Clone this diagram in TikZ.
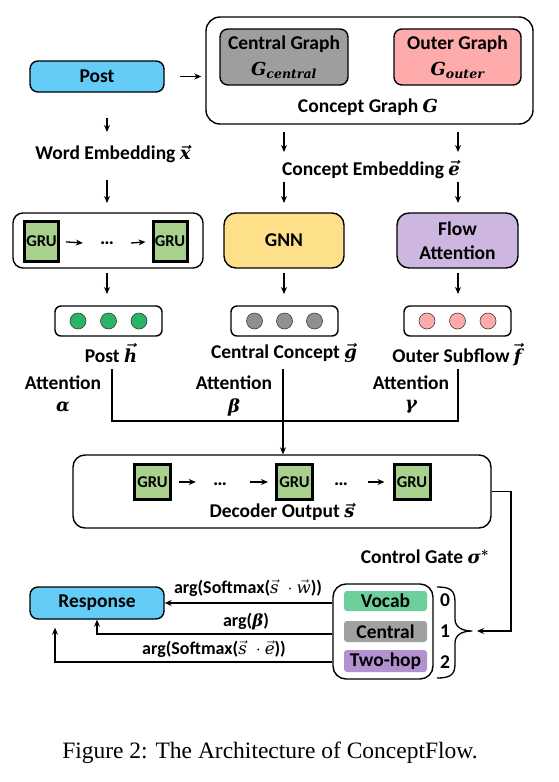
\RequirePackage{fix-cm}
\documentclass[tikz,border=0pt]{standalone}
\usepackage{amsmath}
\usepackage{fontspec}
\setmainfont{Carlito}
\newfontfamily\capfont{Liberation Serif}
\newfontfamily\mvf{DejaVu Serif}[Scale=0.92]
\newcommand\mvb[1]{\text{\mvf\bfseries\itshape #1}}
\newcommand\mvr[1]{\text{\mvf\mdseries\itshape #1}}
\usetikzlibrary{arrows.meta}
\definecolor{postblue}{HTML}{63CCF7}
\definecolor{cgray}{HTML}{9E9E9E}
\definecolor{opink}{HTML}{FFABAB}
\definecolor{grugreen}{HTML}{A9D18E}
\definecolor{gnnyellow}{HTML}{FFE08A}
\definecolor{flowlav}{HTML}{CDB6DF}
\definecolor{dotgreen}{HTML}{2AB566}
\definecolor{dotgray}{HTML}{909090}
\definecolor{dotpink}{HTML}{FFAAAA}
\definecolor{vocabgreen}{HTML}{6DCF9C}
\definecolor{selgray}{HTML}{A0A0A0}
\definecolor{twohop}{HTML}{B390D0}
\begin{document}
\begin{tikzpicture}[x=1pt,y=-1pt,
  every node/.style={font=\fontsize{19.5}{24}\selectfont\bfseries\boldmath, inner sep=0pt, text=black},
  rbox/.style={draw=black, line width=1.4pt, rounded corners=8pt},
  grub/.style={draw=black, line width=3pt, fill=grugreen, font=\fontsize{16.5}{19}\selectfont\bfseries},
  dotc/.style={circle, draw=black!75, line width=0.6pt, minimum size=16pt},
  selb/.style={rounded corners=3pt, minimum width=83pt},
  arr/.style={line width=1.3pt, -{Stealth[length=7pt,width=6pt]}},
  ln/.style={line width=1.3pt},
  dotsn/.style={minimum width=48pt},
  arglab/.style={font=\fontsize{18}{20}\selectfont\bfseries}
]
\fill[white] (0,0) rectangle (559,782);
\useasboundingbox (0,0) rectangle (559,782);

% ---------- top row ----------
\node[rbox, rounded corners=14pt, minimum width=327pt, minimum height=107pt] (cg) at (369.5,70.5) {};
\node[rbox, fill=cgray, minimum width=128pt, minimum height=56pt, align=center] (cgc) at (284,57) {Central Graph\\[2pt]$\mvb{G}_{\mvb{central}}$};
\node[rbox, fill=opink, minimum width=127pt, minimum height=56pt, align=center] (cgo) at (457.5,57) {Outer Graph\\[2pt]$\mvb{G}_{\mvb{outer}}$};
\node (cglab) at (368,107) {Concept Graph $\mvb{G}$};
\node[rbox, fill=postblue, minimum width=134pt, minimum height=31pt] (post) at (97,76.5) {Post};
\draw[arr] ([xshift=15pt]post.east) -- ([xshift=-4pt]post.east -| cg.west);

\node (wemb) at (113,154) {Word Embedding $\vec{\mvb{x}}$};
\node (cemb) at (371,170) {Concept Embedding $\vec{\mvb{e}}$};

\coordinate (a1s) at (107,118); \coordinate (a1e) at (107,132);
\coordinate (a2s) at (284,132); \coordinate (a2e) at (284,152);
\coordinate (a3s) at (458,132); \coordinate (a3e) at (458,152);
\coordinate (b1s) at (107,180); \coordinate (b1e) at (107,203);
\coordinate (b2s) at (284,182); \coordinate (b2e) at (284,203);
\coordinate (b3s) at (458,182); \coordinate (b3e) at (458,203);
\draw[arr] (a1s) -- (a1e);
\draw[arr] (a2s) -- (a2e);
\draw[arr] (a3s) -- (a3e);
\draw[arr] (b1s) -- (b1e);
\draw[arr] (b2s) -- (b2e);
\draw[arr] (b3s) -- (b3e);

% ---------- encoder / GNN / flow ----------
\node[rbox, rounded corners=10pt, minimum width=190pt, minimum height=55pt] (enc) at (108,240.5) {};
\node[grub, minimum width=34pt, minimum height=40pt] (e1) at (41.5,241.5) {GRU};
\node[grub, minimum width=34pt, minimum height=40pt] (e2) at (170,241.5) {GRU};
\node[dotsn] (ed) at (107,243) {…};
\draw[arr, shorten <=6pt] (e1.east) -- (ed.west);
\draw[arr, shorten >=6pt] (ed.east) -- (e2.west);

\node[rbox, rounded corners=12pt, fill=gnnyellow, minimum width=120pt, minimum height=55pt] (gnn) at (284,240.5) {GNN};
\node[rbox, rounded corners=12pt, fill=flowlav, minimum width=121pt, minimum height=55pt, align=center] (flow) at (457.5,240.5) {Flow\\Attention};

\coordinate (c1s) at (107,273); \coordinate (c1e) at (107,294);
\coordinate (c2s) at (284,273); \coordinate (c2e) at (284,294);
\coordinate (c3s) at (458,273); \coordinate (c3e) at (458,294);
\draw[arr] (c1s) -- (c1e);
\draw[arr] (c2s) -- (c2e);
\draw[arr] (c3s) -- (c3e);

% ---------- vectors ----------
\node[rbox, rounded corners=6pt, minimum width=107pt, minimum height=30pt] (vh) at (108.5,321) {};
\node[rbox, rounded corners=6pt, minimum width=107pt, minimum height=30pt] (vg) at (284.5,321) {};
\node[rbox, rounded corners=6pt, minimum width=107pt, minimum height=30pt] (vf) at (457.5,321) {};
\node[dotc, fill=dotgreen] (h1) at (78,321) {};
\node[dotc, fill=dotgreen] (h2) at (108.5,321) {};
\node[dotc, fill=dotgreen] (h3) at (139,321) {};
\node[dotc, fill=dotgray] (g1) at (254.5,321) {};
\node[dotc, fill=dotgray] (g2) at (284.5,321) {};
\node[dotc, fill=dotgray] (g3) at (314.5,321) {};
\node[dotc, fill=dotpink] (f1) at (427,321) {};
\node[dotc, fill=dotpink] (f2) at (457.5,321) {};
\node[dotc, fill=dotpink] (f3) at (488,321) {};

\node (posth) at (111,353) {Post $\vec{\mvb{h}}$};
\node (ccg) at (284,353) {Central Concept $\vec{\mvb{g}}$};
\node (osf) at (457,355) {Outer Subflow $\vec{\mvb{f}}$};

\node (att1) at (63,383) {Attention};
\node (alpha) at (63,407) {$\mvb{α}$};
\node (att2) at (234,383) {Attention};
\node (beta) at (234,407) {$\mvb{β}$};
\node (att3) at (411,383) {Attention};
\node (gamma) at (411,407) {$\mvb{γ}$};

\coordinate (ptop) at (112,369); \coordinate (pbot) at (112,421);
\coordinate (otop) at (458,369);
\coordinate (mtop) at (283,369);
\draw[ln] (ptop) -- (pbot) -| (otop);

% ---------- decoder ----------
\node[rbox, rounded corners=12pt, minimum width=418pt, minimum height=73pt] (dec) at (282,491.5) {};
\draw[arr] (mtop) -- (mtop |- dec.north);
\node[grub, minimum width=36pt, minimum height=35pt] (d1) at (152.5,482) {GRU};
\node[grub, minimum width=36pt, minimum height=35pt] (d2) at (294.5,482) {GRU};
\node[grub, minimum width=36pt, minimum height=35pt] (d3) at (412,482) {GRU};
\node[dotsn] (dd1) at (220,484) {…};
\node[dotsn] (dd2) at (341,484) {…};
\draw[arr, shorten <=7pt] (d1.east) -- (dd1.west |- d1.east);
\draw[arr, shorten <=6pt, shorten >=7pt] (dd1.east |- d2.west) -- (d2.west);
\draw[arr, shorten <=3pt, shorten >=8pt] (dd2.east |- d3.west) -- (d3.west);
\node (declab) at (282,512) {Decoder Output $\vec{\mvb{s}}$};

% ---------- control gate ----------
\node (gate) at (425,557) {Control Gate $\mvb{σ}^{*}$};
\node[rbox, rounded corners=13pt, minimum width=100pt, minimum height=95pt] (sel) at (383,631.5) {};
\node[selb, fill=vocabgreen, minimum height=20pt] (voc) at (385.5,601) {Vocab};
\node[selb, fill=selgray, minimum height=21pt] (cen) at (385.5,631.5) {Central};
\node[selb, fill=twohop, minimum height=22pt] (two) at (385.5,661) {Two-hop};
\node (n0) at (445,600) {0};
\node (n1) at (445,631) {1};
\node (n2) at (445,662) {2};
\draw[ln, line join=round] (437,587) .. controls (450,587) and (455,590) .. (455,602)
  -- (455,619) .. controls (455,627) and (462,631) .. (472,631)
  .. controls (462,631) and (455,635) .. (455,643)
  -- (455,664) .. controls (455,675) and (450,678) .. (437,678);
\coordinate (btip) at (472,631);
\coordinate (gx) at (511,631);
\draw[arr, shorten >=5pt] (dec.east) -| (gx) -- (btip);

% ---------- response ----------
\node[rbox, fill=postblue, minimum width=134pt, minimum height=32pt] (resp) at (97,603) {Response};
\draw[arr] (sel.west |- resp.east) -- (resp.east);
\draw[arr] (sel.west |- 0,634) -| (resp.south);
\draw[arr, shorten >=8pt] (sel.west |- 0,662) -| ([xshift=-42pt]resp.south);
\node[arglab] (l1) at (248,588) {arg(Softmax($\vec{\mvr{s}}\;\cdot\vec{\mvr{w}}$))};
\node[arglab] (l2) at (246,622) {arg($\mvb{β}$)};
\node[arglab] (l3) at (214,649) {arg(Softmax($\vec{\mvr{s}}\;\cdot\vec{\mvr{e}}$))};

% ---------- caption ----------
\node[font=\capfont\fontsize{23.5}{28}\selectfont] (cap) at (270,753) {Figure 2: The Architecture of ConceptFlow.};
\end{tikzpicture}
\end{document}
